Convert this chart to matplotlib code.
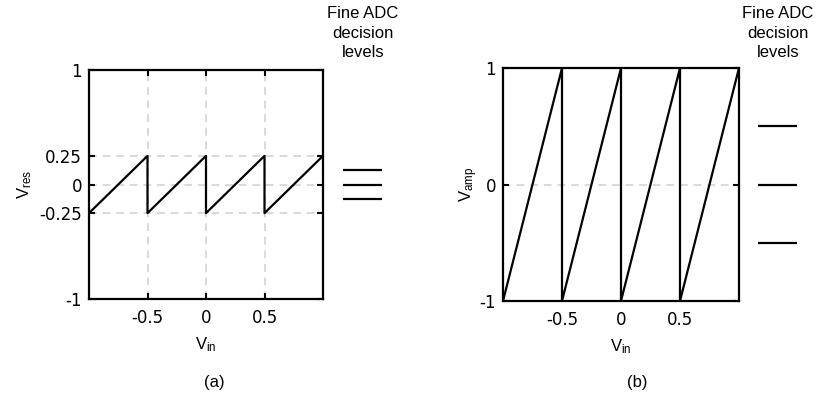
import numpy as np
import matplotlib
matplotlib.use("Agg")
import matplotlib.pyplot as plt

plt.rcParams['font.family'] = ['Liberation Sans', 'DejaVu Sans']
plt.rcParams['mathtext.default'] = 'regular'

# panel (a): residue of the coarse stage
vin_a = [-1, -0.5, -0.5, 0, 0, 0.5, 0.5, 1]
vres = [-0.25, 0.25, -0.25, 0.25, -0.25, 0.25, -0.25, 0.25]
levels_a = [-0.125, 0, 0.125]
yticks_a = [1, 0.25, 0, -0.25, -1]
ytlabels_a = ['1', '0.25', '0', '-0.25', '-1']

# panel (b): amplified residue
vin_b = [-1, -0.5, -0.5, 0, 0, 0.5, 0.5, 1]
vamp = [-1, 1, -1, 1, -1, 1, -1, 1]
levels_b = [-0.5, 0, 0.5]
yticks_b = [1, 0, -1]
ytlabels_b = ['1', '0', '-1']

xticks = [-0.5, 0, 0.5]
xtlabels = ['-0.5', '0', '0.5']

W, H = 817, 398
fig = plt.figure(figsize=(W / 100, H / 100), dpi=100)

def px_axes(l, t, r, b):
    return fig.add_axes([l / W, 1 - b / H, (r - l) / W, (b - t) / H])

def style(ax, yt, ytl):
    ax.set_xlim(-1, 1)
    ax.set_ylim(-1, 1)
    ax.set_xticks(xticks)
    ax.set_xticklabels(xtlabels, family='DejaVu Sans', fontsize=12)
    ax.set_yticks(yt)
    ax.set_yticklabels(ytl, family='DejaVu Sans', fontsize=12)
    ax.tick_params(direction='in', top=True, right=True, length=4, width=1.5)
    ax.tick_params(axis='x', pad=7)
    ax.tick_params(axis='y', pad=5)
    for s in ax.spines.values():
        s.set_linewidth(1.6)

# ---- (a)
ax1 = px_axes(89, 70, 323, 299)
for x in xticks:
    ax1.axvline(x, color='#d9d9d9', ls=(0, (4, 3)), lw=1.4, zorder=0)
for y in [0.25, 0, -0.25]:
    ax1.axhline(y, color='#d9d9d9', ls=(0, (4, 3)), lw=1.4, zorder=0)
ax1.plot(vin_a, vres, color='black', lw=1.6)
style(ax1, yticks_a, ytlabels_a)
ax1.set_xlabel('V$_{in}$', fontsize=12, labelpad=6)
ax1.set_ylabel('V$_{res}$', fontsize=12, labelpad=4)
ax1.hlines(levels_a, 1.085, 1.252, transform=ax1.get_yaxis_transform(),
           color='black', lw=1.6, clip_on=False)
fig.text(363 / W, 1 - 6 / H, 'Fine ADC\ndecision\nlevels', ha='center', va='top',
         fontsize=12, linespacing=1.38)
fig.text(214 / W, 1 - 383 / H, '(a)', ha='center', va='center', fontsize=12)

# ---- (b)
ax2 = px_axes(503, 68, 739, 301)
ax2.axhline(0, color='#d9d9d9', ls=(0, (4, 3)), lw=1.4, zorder=0)
ax2.plot(vin_b, vamp, color='black', lw=1.6)
style(ax2, yticks_b, ytlabels_b)
ax2.set_xlabel('V$_{in}$', fontsize=12, labelpad=6)
ax2.set_ylabel('V$_{amp}$', fontsize=12, labelpad=0)
ax2.hlines(levels_b, 1.08, 1.246, transform=ax2.get_yaxis_transform(),
           color='black', lw=1.6, clip_on=False)
fig.text(778 / W, 1 - 6 / H, 'Fine ADC\ndecision\nlevels', ha='center', va='top',
         fontsize=12, linespacing=1.38)
fig.text(637 / W, 1 - 383 / H, '(b)', ha='center', va='center', fontsize=12)

fig.savefig('out.png', dpi=100)
